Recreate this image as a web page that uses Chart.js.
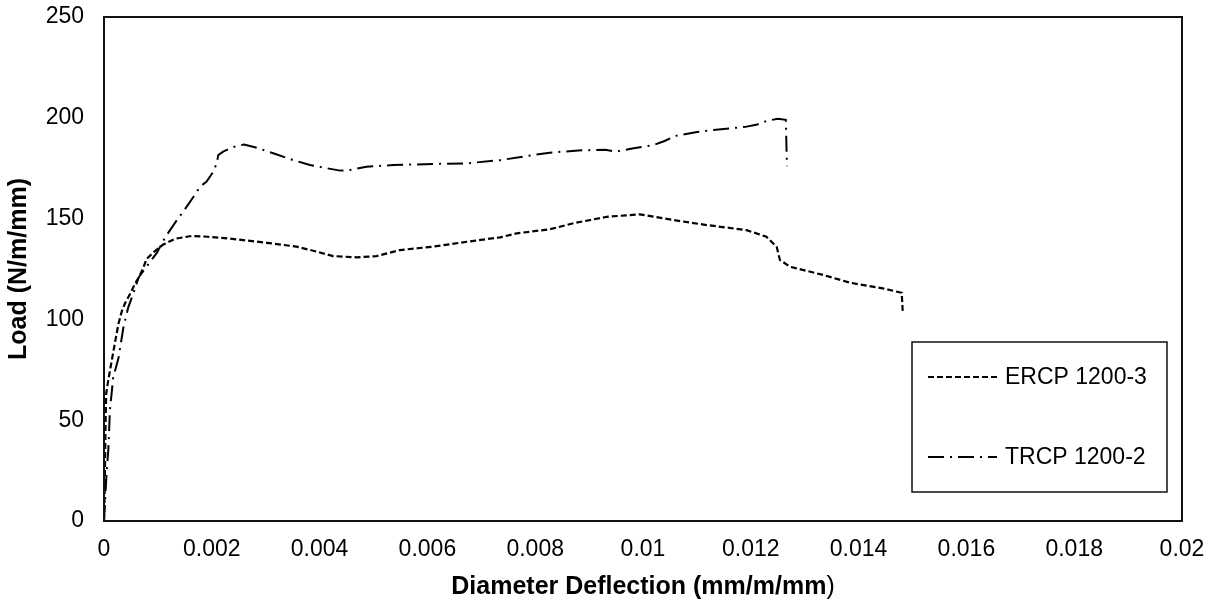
<!DOCTYPE html>
<html>
<head>
<meta charset="utf-8">
<script src="https://cdn.jsdelivr.net/npm/chart.js@4"></script>
<style>
  html, body { margin: 0; padding: 0; background: #fff; }
  #wrap { width: 1213px; height: 602px; }
</style>
</head>
<body>
<div id="wrap"><canvas id="loadChart" width="1213" height="602"></canvas></div>
<script>
// deflection (mm/m/mm) and load (N/m/mm)
const ercpDefl = [0, 0.00001, 0.00002, 0.00003, 0.00004, 0.00008, 0.00014, 0.0002, 0.00027, 0.00033,
  0.00039, 0.00045, 0.00051, 0.00058, 0.00064, 0.00072, 0.00079, 0.00087, 0.00095, 0.00109,
  0.00132, 0.00163, 0.00193, 0.0023, 0.00302, 0.00357, 0.00395, 0.00425, 0.00469, 0.00506,
  0.00549, 0.00611, 0.00673, 0.00735, 0.00766, 0.00827, 0.00871, 0.00933, 0.00994, 0.01056,
  0.01118, 0.01192, 0.01229, 0.01248, 0.01254, 0.01273, 0.01335, 0.01384, 0.01445, 0.0148, 0.01482];
const ercpLoad = [0, 10, 30, 50, 63, 70, 79, 88, 98, 104,
  108, 111, 114, 118, 120.5, 125, 130, 132, 134, 137,
  140, 141.4, 141, 140.2, 138, 136.1, 133.6, 131.4, 130.8, 131.4,
  134.4, 136.1, 138.5, 140.7, 142.7, 144.7, 147.7, 150.9, 152.1, 149.3,
  146.8, 144.3, 141, 136, 129.5, 126.1, 122, 118.2, 115.4, 113.2, 103.3];

const trcpDefl = [0, 0.00002, 0.00005, 0.00008, 0.00011, 0.00017, 0.00027, 0.00036, 0.00045, 0.00054,
  0.00064, 0.00082, 0.00098, 0.00113, 0.00132, 0.0015, 0.00169, 0.00178, 0.0019, 0.00203,
  0.00209, 0.00212, 0.00221, 0.0024, 0.0026, 0.00285, 0.00314, 0.00351, 0.00382, 0.00413,
  0.00438, 0.00456, 0.00487, 0.00537, 0.00611, 0.00673, 0.00735, 0.00796, 0.00827, 0.0088,
  0.0093, 0.0095, 0.0098, 0.0102, 0.0104, 0.0106, 0.011, 0.0115, 0.0119, 0.0121,
  0.0123, 0.0125, 0.01265, 0.01267];
const trcpLoad = [0, 10, 25, 35, 55, 71, 81, 96, 106, 112.5,
  120.7, 127.3, 133, 140.5, 148, 154.6, 162, 165.8, 168.3, 173.3,
  177.4, 181.5, 183.2, 185.5, 186.8, 185, 182.4, 179, 176.6, 175,
  173.8, 174.1, 175.7, 176.6, 177.1, 177.4, 179, 181.5, 182.7, 183.8,
  184.2, 183.2, 184.8, 186.5, 188.5, 191, 193, 194.5, 195.5, 196.5,
  198.5, 199.5, 199, 176];

const seriesNames = ['ERCP 1200-3', 'TRCP 1200-2'];
const xTitle = 'Diameter Deflection (mm/m/mm';
const yTitle = 'Load (N/m/mm)';

const FONT = "'Liberation Sans', Arial, sans-serif";

function toPoints(xs, ys) {
    return xs.map((x, i) => ({ x: x, y: ys[i] }));
}

// frame round the plot area
const framePlugin = {
    id: 'frame',
    afterDatasetsDraw(chart) {
        const a = chart.chartArea;
        const ctx = chart.ctx;
        ctx.save();
        ctx.strokeStyle = '#111';
        ctx.lineWidth = 2;
        ctx.strokeRect(a.left, a.top, a.right - a.left, a.bottom - a.top);
        ctx.restore();
    }
};

// x title, bold except the closing bracket (as in the original)
const xTitlePlugin = {
    id: 'xTitle',
    afterDraw(chart) {
        const a = chart.chartArea;
        const ctx = chart.ctx;
        ctx.save();
        ctx.fillStyle = '#000';
        ctx.textBaseline = 'middle';
        ctx.font = 'bold 25px ' + FONT;
        const w1 = ctx.measureText(xTitle).width;
        ctx.font = '25px ' + FONT;
        const w2 = ctx.measureText(')').width;
        let x = (a.left + a.right) / 2 - (w1 + w2) / 2;
        const y = a.bottom + 66;
        ctx.font = 'bold 25px ' + FONT;
        ctx.fillText(xTitle, x, y);
        ctx.font = '25px ' + FONT;
        ctx.fillText(')', x + w1, y);
        ctx.restore();
    }
};

// boxed legend inside the plot, lower right
const legendBoxPlugin = {
    id: 'legendBox',
    afterDraw(chart) {
        const a = chart.chartArea;
        const ctx = chart.ctx;
        const right = a.right - 15, bottom = a.bottom - 29;
        const left = right - 255, top = bottom - 150;
        ctx.save();
        ctx.fillStyle = '#fff';
        ctx.fillRect(left, top, right - left, bottom - top);
        ctx.strokeStyle = '#111';
        ctx.lineWidth = 1.5;
        ctx.strokeRect(left, top, right - left, bottom - top);
        chart.data.datasets.forEach((ds, i) => {
            const y = top + 35 + i * 80;
            ctx.strokeStyle = ds.borderColor;
            ctx.lineWidth = ds.borderWidth;
            ctx.setLineDash(ds.borderDash);
            ctx.beginPath();
            ctx.moveTo(left + 16, y);
            ctx.lineTo(left + 85, y);
            ctx.stroke();
            ctx.setLineDash([]);
            ctx.fillStyle = '#000';
            ctx.font = '23px ' + FONT;
            ctx.textBaseline = 'middle';
            ctx.fillText(ds.label, left + 93, y + 1);
        });
        ctx.restore();
    }
};

const ctx = document.getElementById('loadChart').getContext('2d');
new Chart(ctx, {
    type: 'scatter',
    data: {
        datasets: [{
            label: seriesNames[0],
            data: toPoints(ercpDefl, ercpLoad),
            showLine: true,
            borderColor: '#000',
            borderWidth: 2.2,
            borderDash: [6, 3],
            pointRadius: 0,
            tension: 0
        }, {
            label: seriesNames[1],
            data: toPoints(trcpDefl, trcpLoad),
            showLine: true,
            borderColor: '#000',
            borderWidth: 2,
            borderDash: [16, 6, 2, 6],
            pointRadius: 0,
            tension: 0
        }]
    },
    options: {
        responsive: false,
        animation: false,
        layout: { padding: { left: 0, top: 17, right: 31, bottom: 0 } },
        plugins: {
            legend: { display: false },
            tooltip: { enabled: false }
        },
        scales: {
            x: {
                type: 'linear',
                min: 0,
                max: 0.02,
                grid: { display: false, drawTicks: false },
                border: { display: false },
                ticks: {
                    stepSize: 0.002,
                    padding: 15,
                    color: '#000',
                    font: { family: FONT, size: 23 },
                    maxRotation: 0,
                    callback: v => String(parseFloat(v.toFixed(3)))
                },
                afterFit: s => { s.height = 81; s.paddingLeft = 0; s.paddingRight = 0; }
            },
            y: {
                min: 0,
                max: 250,
                grid: { display: false, drawTicks: false },
                border: { display: false },
                ticks: {
                    stepSize: 50,
                    padding: 20,
                    color: '#000',
                    font: { family: FONT, size: 23 }
                },
                title: {
                    display: true,
                    text: yTitle,
                    color: '#000',
                    font: { family: FONT, size: 25, weight: 'bold' },
                    padding: { top: 4, bottom: 0 }
                },
                afterFit: s => { s.width = 104; s.paddingTop = 0; s.paddingBottom = 0; }
            }
        }
    },
    plugins: [framePlugin, xTitlePlugin, legendBoxPlugin]
});
</script>
</body>
</html>
